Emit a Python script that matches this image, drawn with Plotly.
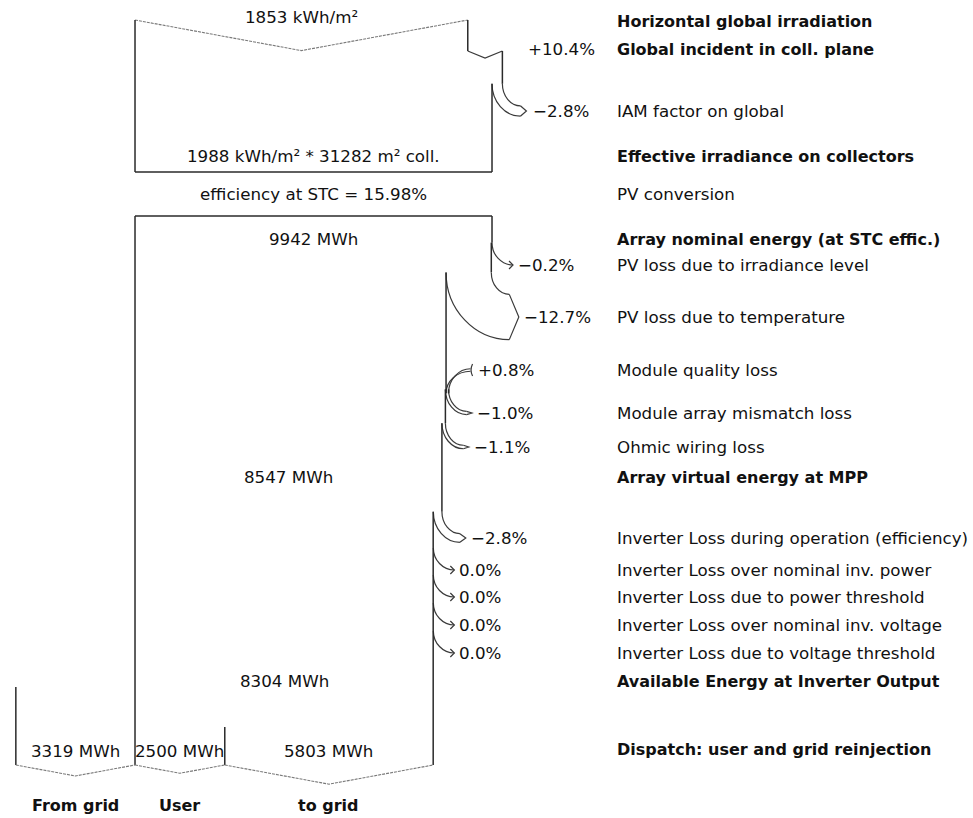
import plotly.graph_objects as go

# ---------------- data ----------------
# irradiance chain, kWh/m²
ghi = 1853
incident_gain_pct = 10.4
iam_loss_pct = -2.8
eff_irradiance = 1988
coll_area = 31282
stc_efficiency = 15.98

# array energy chain, MWh
e_nominal = 9942
array_step_pct = [-0.2, -12.7, 0.8, -1.0, -1.1]
e_mpp = 8547
inverter_step_pct = [-2.8, 0.0, 0.0, 0.0, 0.0]
e_inverter = 8304

# dispatch, MWh
e_from_grid = 3319
e_user = 2500
e_to_grid = 5803

step_labels = [
    "Horizontal global irradiation",
    "Global incident in coll. plane",
    "IAM factor on global",
    "Effective irradiance on collectors",
    "PV conversion",
    "Array nominal energy (at STC effic.)",
    "PV loss due to irradiance level",
    "PV loss due to temperature",
    "Module quality loss",
    "Module array mismatch loss",
    "Ohmic wiring loss",
    "Array virtual energy at MPP",
    "Inverter Loss during operation (efficiency)",
    "Inverter Loss over nominal inv. power",
    "Inverter Loss due to power threshold",
    "Inverter Loss over nominal inv. voltage",
    "Inverter Loss due to voltage threshold",
    "Available Energy at Inverter Output",
    "Dispatch: user and grid reinjection",
]
step_bold = [True, True, False, True, False, True, False, False, False, False,
             False, True, False, False, False, False, False, True, True]
dispatch_names = ["From grid", "User", "to grid"]

# ---------------- layout ----------------
W, H = 973, 818
X_MIN, X_MAX = -3760, 23337            # energy axis (MWh)
K = W / (X_MAX - X_MIN)                # pixels per MWh
IRR = e_nominal / eff_irradiance       # kWh/m² -> MWh-equivalent width

row_y = [21, 49, 111, 156, 194, 239, 265, 317, 370, 413, 447, 477,
         538, 570, 597, 625, 653, 681, 749]
array_rows = row_y[6:11]
inverter_rows = row_y[12:17]
TOP1, BOT1 = 20, 172
TOP2, BASE = 216, 765
GRID_TOP, USER_TOP = 687, 727
NAME_Y = 805
LABEL_X = 615 / W

LINE = dict(color="#2a2a2a", width=1.5)
THIN = dict(color="#3a3a3a", width=1.2)
DASH = dict(color="#7a7a7a", width=1.1, dash="3px,1px")
FONT = "DejaVu Sans"

shapes = []
annotations = []


def px(v):
    return v / K


def seg(x0, y0, x1, y1, line=LINE):
    shapes.append(dict(type="line", x0=x0, y0=y0, x1=x1, y1=y1,
                       xref="x", yref="y", line=line))


def path(d, line=THIN):
    shapes.append(dict(type="path", path=d, xref="x", yref="y", line=line))


def bend(x0, y0, x1, y1):
    # vertical start tangent, horizontal end tangent
    return (f"M {x0:.2f},{y0:.2f} C {x0:.2f},{y0 + 0.55 * (y1 - y0):.2f} "
            f"{x1 - 0.55 * (x1 - x0):.2f},{y1:.2f} {x1:.2f},{y1:.2f}")


def text(x, y, s, anchor="center", bold=False, xref="x", size=None):
    annotations.append(dict(
        x=x, y=y, xref=xref, yref="y", text=f"<b>{s}</b>" if bold else s,
        showarrow=False, xanchor=anchor, yanchor="middle",
        font=dict(family=FONT, size=size or (16 if bold else 16.7), color="#111111")))


def pct_str(p):
    if p > 0:
        return f"+{p:.1f}%"
    if p < 0:
        return f"\u2212{abs(p):.1f}%"
    return f"{p:.1f}%"


def chevron(xa, xb, y, depth=None, line=DASH):
    d = depth if depth is not None else 0.092 * (xb - xa) * K
    path(f"M {xa},{y} L {(xa + xb) / 2},{y + d} L {xb},{y}", line=line)


def loss_arrow(w_prev, w_next, yrow):
    """Loss branching off the right edge; returns y where it leaves the edge."""
    b = (w_prev - w_next) * K
    ys = yrow - b / 2 - 22
    xh = w_prev + px(18)
    if b < 1.5:
        tip = xh + px(3)
        path(bend(w_prev, ys, tip, yrow))
        path(f"M {tip - px(4)},{yrow - 4} L {tip},{yrow} L {tip - px(4)},{yrow + 4}")
        return ys, tip
    head = 5 + 0.1 * b
    path(bend(w_prev, ys, xh, yrow - b / 2))
    path(bend(w_next, ys, xh, yrow + b / 2))
    tip = xh + px(head)
    path(f"M {xh},{yrow - b / 2} L {tip},{yrow} L {xh},{yrow + b / 2}")
    return ys, tip


def gain_arrow(w_prev, w_next, yrow):
    b = (w_next - w_prev) * K
    ye = yrow + b / 2 + 22
    xh = w_next + px(22)
    path(bend(w_prev, ye, xh, yrow + b / 2))
    path(bend(w_next, ye, xh, yrow - b / 2))
    path(f"M {xh + px(2)},{yrow - 6} Q {xh - px(1)},{yrow} {xh + px(2)},{yrow + 6}")
    return ye, xh + px(2)


# ---------- irradiance box ----------
x_ghi = ghi * IRR
x_inc = ghi * (1 + incident_gain_pct / 100) * IRR
x_eff = eff_irradiance * IRR

chevron(0, x_ghi, TOP1)
seg(0, TOP1, 0, BOT1)
seg(0, BOT1, x_eff, BOT1)
gain_y = row_y[1] + 2
seg(x_ghi, TOP1, x_ghi, gain_y)
chevron(x_ghi, x_inc, gain_y, depth=7, line=THIN)
text(x_inc + px(24), row_y[1], pct_str(incident_gain_pct), anchor="left")
ys, tip = loss_arrow(x_inc, x_eff, row_y[2])
seg(x_inc, gain_y, x_inc, ys)
seg(x_eff, ys, x_eff, BOT1)
text(tip + px(5), row_y[2], pct_str(iam_loss_pct), anchor="left")

text(x_ghi / 2, row_y[0] - 4, f"{ghi} kWh/m\u00b2")
text(x_eff / 2, row_y[3], f"{eff_irradiance} kWh/m\u00b2 * {coll_area} m\u00b2 coll.")
text(e_nominal / 2, row_y[4], f"efficiency at STC = {stc_efficiency:.2f}%")

# ---------- array energy column ----------
seg(0, TOP2, e_nominal, TOP2)
seg(0, TOP2, 0, BASE)
text(e_nominal / 2, row_y[5], f"{e_nominal} MWh")

w = e_nominal
y_from = TOP2
for i, (p, yr) in enumerate(zip(array_step_pct, array_rows)):
    w_new = w * (1 + p / 100)
    if i == len(array_step_pct) - 1:
        w_new = e_mpp
    if p < 0:
        ys, tip = loss_arrow(w, w_new, yr)
        seg(w, y_from, w, ys)
        y_from = ys
    else:
        ye, tip = gain_arrow(w, w_new, yr)
        seg(w, y_from, w, ye)
        y_from = ye
    text(tip + px(3), yr, pct_str(p), anchor="left")
    w = w_new

text(e_mpp / 2, row_y[11], f"{e_mpp} MWh")

# inverter losses branch off the final edge
first = True
for i, (p, yr) in enumerate(zip(inverter_step_pct, inverter_rows)):
    w_new = w * (1 + p / 100)
    if i == len(inverter_step_pct) - 1:
        w_new = e_inverter
    ys, tip = loss_arrow(w, w_new, yr)
    if first:
        seg(w, y_from, w, ys)
        y_from = ys
        first = False
    text(tip + px(3), yr, pct_str(p), anchor="left")
    w = w_new

seg(e_inverter, y_from, e_inverter, BASE)
text(e_inverter / 2, row_y[17], f"{e_inverter} MWh")

# ---------- dispatch ----------
seg(-e_from_grid, GRID_TOP, -e_from_grid, BASE)
seg(e_user, USER_TOP, e_user, BASE)
chevron(-e_from_grid, 0, BASE)
chevron(0, e_user, BASE)
chevron(e_user, e_user + e_to_grid, BASE)

dispatch_vals = [e_from_grid, e_user, e_to_grid]
dispatch_mid = [-e_from_grid / 2, e_user / 2, e_user + e_to_grid / 2]
for v, xm, name in zip(dispatch_vals, dispatch_mid, dispatch_names):
    text(xm, row_y[18] + 2, f"{v} MWh")
    text(xm, NAME_Y, name, bold=True)

# ---------- step labels ----------
for s, b, y in zip(step_labels, step_bold, row_y):
    text(LABEL_X, y, s, anchor="left", bold=b, xref="paper")

fig = go.Figure()
fig.add_trace(go.Scatter(x=[X_MIN, X_MAX], y=[0, H], mode="markers",
                         marker=dict(opacity=0), hoverinfo="skip", showlegend=False))
fig.update_layout(
    width=W, height=H, margin=dict(l=0, r=0, t=0, b=0),
    paper_bgcolor="white", plot_bgcolor="white",
    xaxis=dict(range=[X_MIN, X_MAX], visible=False, fixedrange=True),
    yaxis=dict(range=[H, 0], visible=False, fixedrange=True),
    shapes=shapes, annotations=annotations, showlegend=False,
)
fig.write_html("out.html")
